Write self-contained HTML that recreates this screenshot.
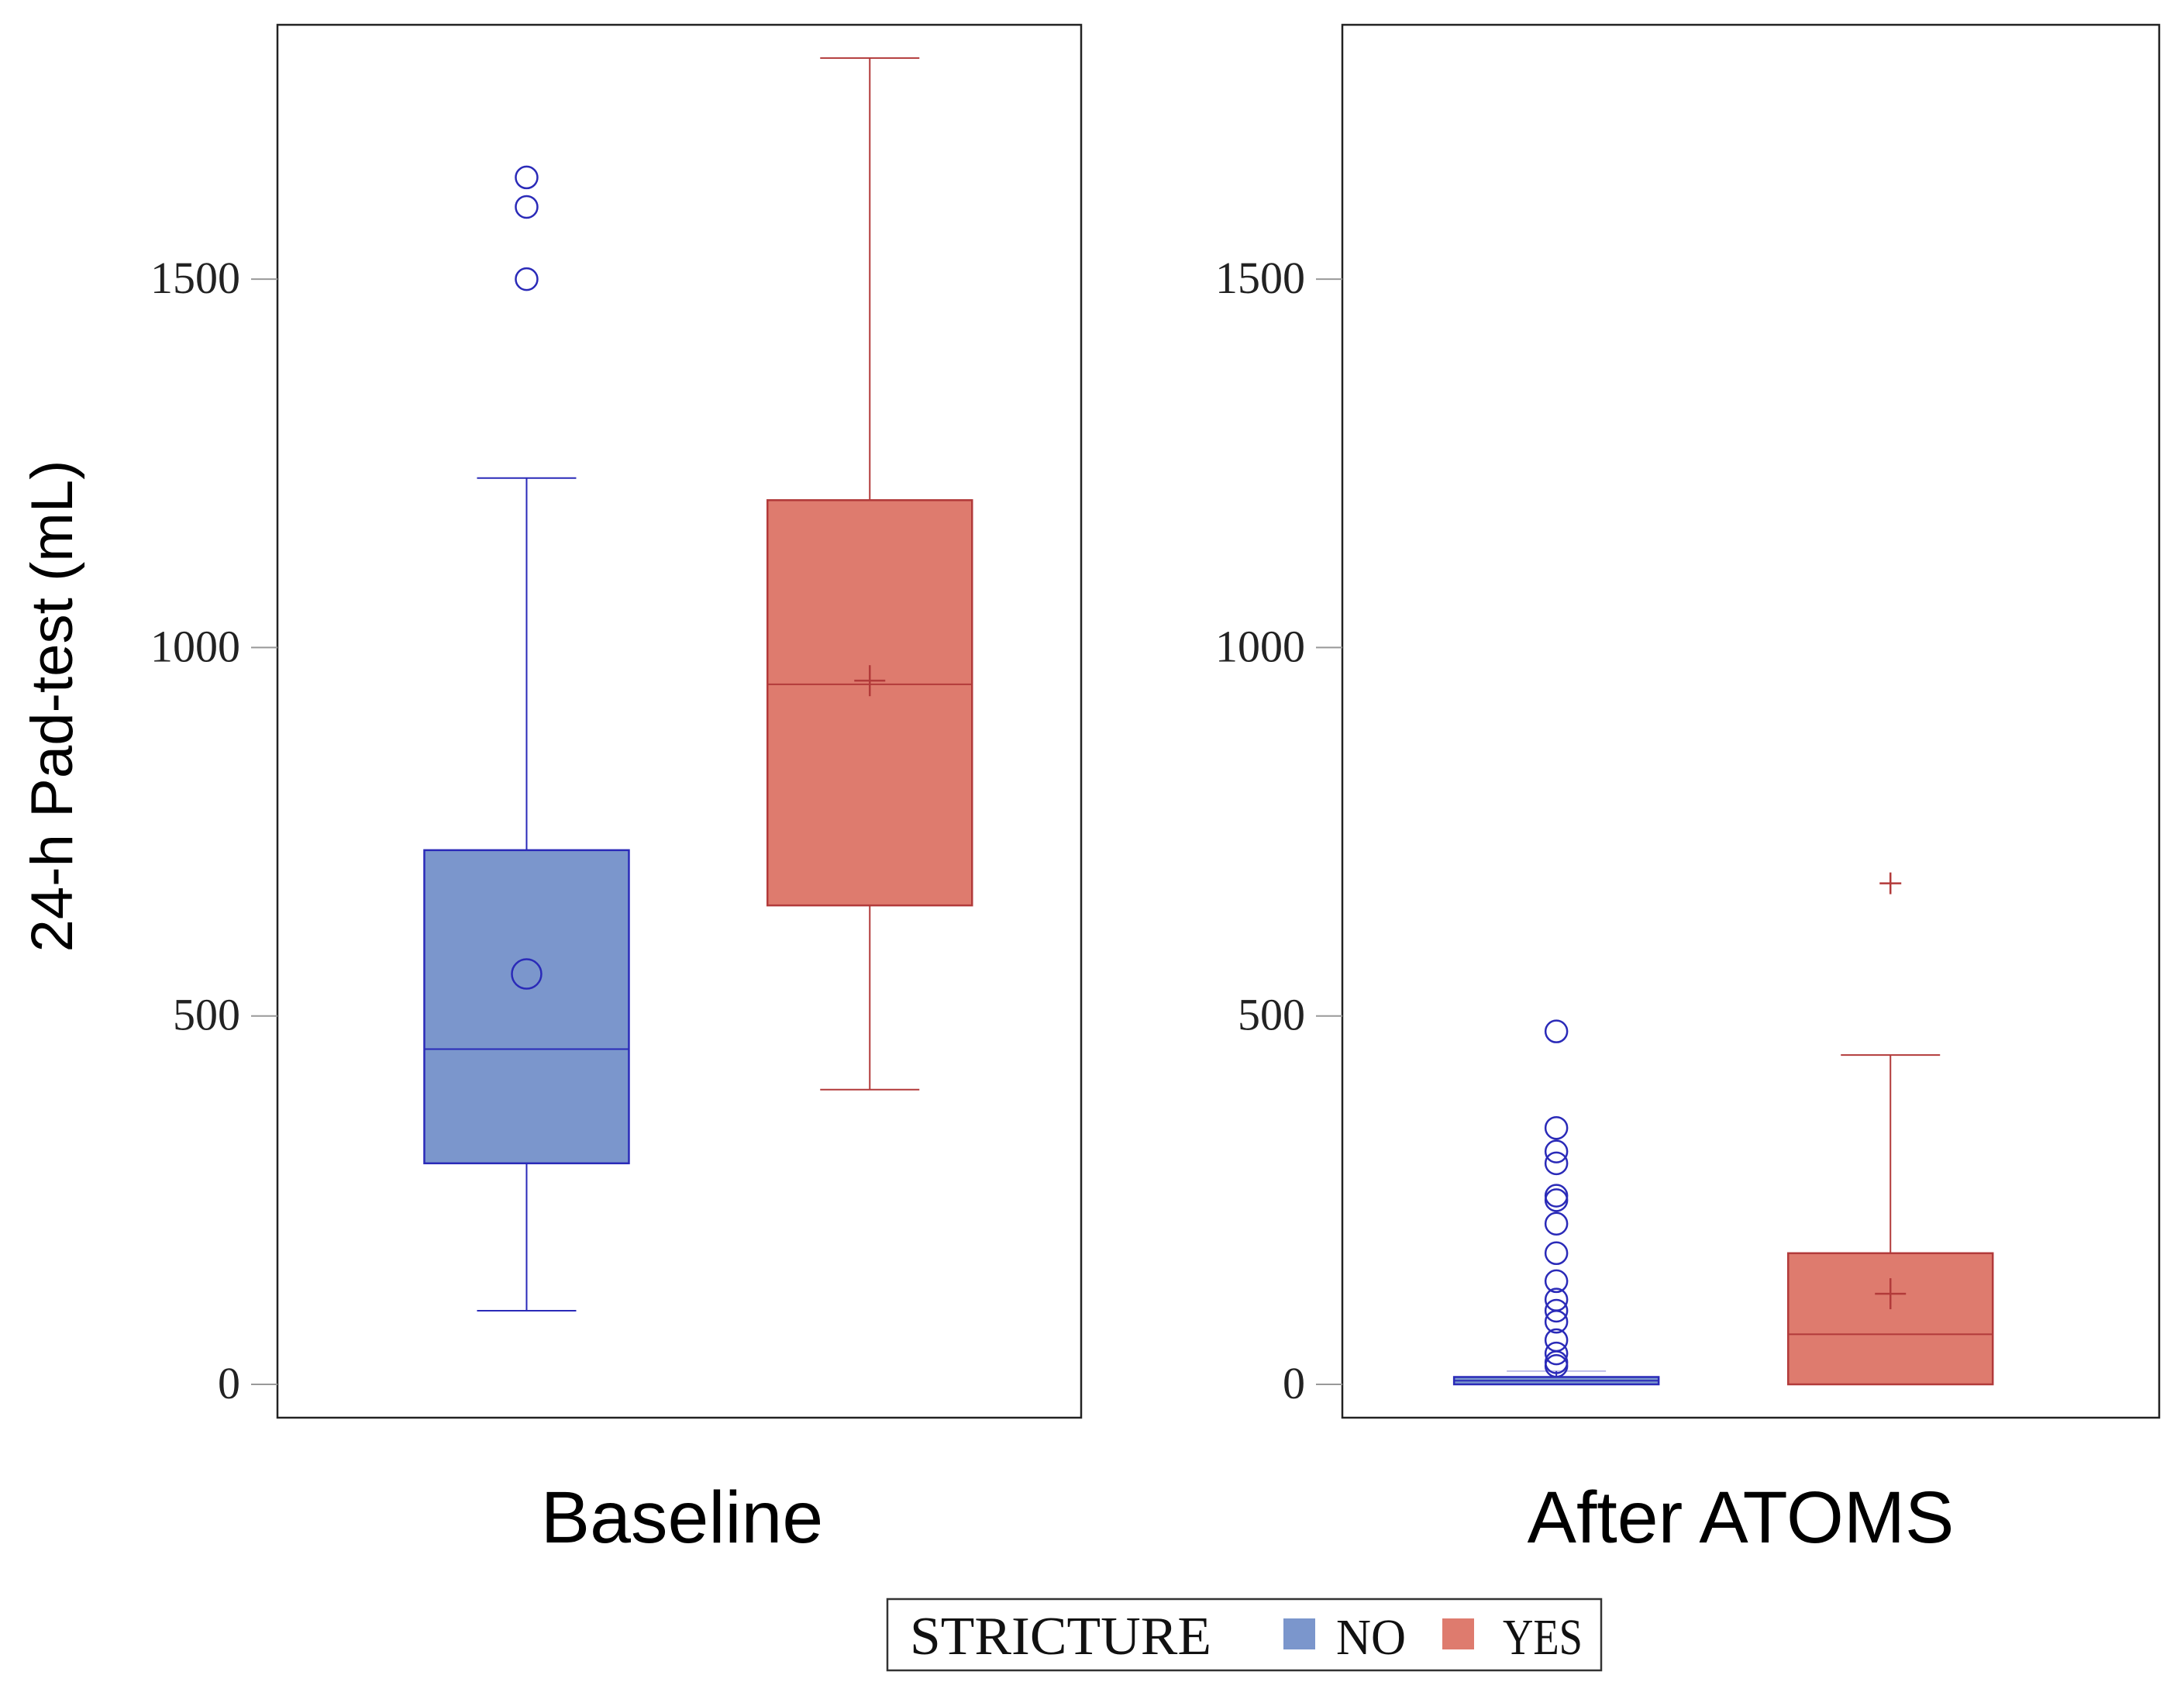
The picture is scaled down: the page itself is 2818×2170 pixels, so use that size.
<!DOCTYPE html>
<html><head><meta charset="utf-8"><style>
html,body{margin:0;padding:0;background:#fff;width:2818px;height:2170px;overflow:hidden}
svg{display:block}
</style></head><body>
<svg id="chart" width="2818" height="2170" xmlns="http://www.w3.org/2000/svg"></svg>
<script>
const panels = ["Baseline", "After ATOMS"];
const groups = ["NO", "YES"];
const yTicks = [0, 500, 1000, 1500];
// [low, q1, median, q3, high, mean] per panel per group
const baselineNo = [100, 300, 455, 725, 1230, 557];
const baselineYes = [400, 650, 950, 1200, 1800, 955];
const afterNo = [0, 0, 5, 10, 18, 6];
const afterYes = [0, 0, 68, 178, 447, 123];
const baselineNoOutliers = [1500, 1598, 1638];
const baselineYesOutliers = [];
const afterNoOutliers = [479, 348, 316, 300, 256, 250, 218, 178, 140, 115, 100, 85, 60, 42, 30, 25];
const afterYesOutliers = [680];
const stats = [[baselineNo, baselineYes], [afterNo, afterYes]];
const outliers = [[baselineNoOutliers, baselineYesOutliers], [afterNoOutliers, afterYesOutliers]];

const NS = "http://www.w3.org/2000/svg";
const svg = document.getElementById("chart");
const frames = [{x0: 358, x1: 1395}, {x0: 1732, x1: 2786}];
const centerFrac = [[0.31, 0.737], [0.262, 0.671]];
const labelX = [880, 2246];
const plotTop = 32, plotBottom = 1829;
function yScale(v) { return 1786 - v * (475.3 / 500); }
function xCenter(p, g) { const f = frames[p]; return f.x0 + (f.x1 - f.x0) * centerFrac[p][g]; }
const fills = ["#7b96cc", "#de7b6e"], strokes = ["#2a2ab8", "#b23a3a"];
function mk(tag, attrs, parent) {
  const e = document.createElementNS(NS, tag);
  for (const k in attrs) e.setAttribute(k, attrs[k]);
  (parent || svg).appendChild(e);
  return e;
}
panels.forEach((name, p) => {
  const f = frames[p];
  const g = mk("g", {});
  
  
  const fr = mk("rect", {x: f.x0, y: plotTop, width: f.x1 - f.x0, height: plotBottom - plotTop, fill: "none", stroke: "#222", "stroke-width": 2.5}, g);
  
  
  yTicks.forEach(t => {
    const y = yScale(t);
    const tk = mk("line", {x1: f.x0 - 34, x2: f.x0, y1: y, y2: y, stroke: "#999", "stroke-width": 2}, g);
    
    
    const tl = mk("text", {x: f.x0 - 48, y: y + 18, "text-anchor": "end", "font-family": "Liberation Serif, serif", "font-size": 58, fill: "#222"}, g);
    tl.textContent = t;
    
    
  });
  groups.forEach((gn, gi) => {
    const s = stats[p][gi], cx = xCenter(p, gi), hw = 132, cap = 64;
    const bg = mk("g", {}, g);
    
    
    const st = strokes[gi];
    mk("line", {x1: cx, x2: cx, y1: yScale(s[0]), y2: yScale(s[1]), stroke: st, "stroke-width": 2}, bg);
    mk("line", {x1: cx, x2: cx, y1: yScale(s[3]), y2: yScale(s[4]), stroke: st, "stroke-width": 2}, bg);
    mk("line", {x1: cx - cap, x2: cx + cap, y1: yScale(s[0]), y2: yScale(s[0]), stroke: st, "stroke-width": 2, opacity: p === 1 && gi === 0 ? 0 : 1}, bg);
    mk("line", {x1: cx - cap, x2: cx + cap, y1: yScale(s[4]), y2: yScale(s[4]), stroke: st, "stroke-width": 2, opacity: p === 1 && gi === 0 ? 0.3 : 1}, bg);
    const bh = Math.max(yScale(s[1]) - yScale(s[3]), 8);
    mk("rect", {x: cx - hw, y: yScale(s[1]) - bh, width: 2 * hw, height: bh, fill: fills[gi], stroke: st, "stroke-width": 2.5}, bg);
    mk("line", {x1: cx - hw, x2: cx + hw, y1: yScale(s[2]), y2: yScale(s[2]), stroke: st, "stroke-width": 2}, bg);
    const my = yScale(s[5]);
    if (gi === 0) {
      if (p === 0) mk("circle", {cx: cx, cy: my, r: 19, fill: "none", stroke: st, "stroke-width": 2.5}, bg);
    } else {
      mk("line", {x1: cx - 20, x2: cx + 20, y1: my, y2: my, stroke: st, "stroke-width": 2.5}, bg);
      mk("line", {x1: cx, x2: cx, y1: my - 20, y2: my + 20, stroke: st, "stroke-width": 2.5}, bg);
    }
    outliers[p][gi].forEach(v => {
      const oy = yScale(v);
      if (gi === 0) {
        const c = mk("circle", {cx: cx, cy: oy, r: 14, fill: "none", stroke: st, "stroke-width": 2.5}, bg);
        
        
      } else {
        mk("line", {x1: cx - 14, x2: cx + 14, y1: oy, y2: oy, stroke: st, "stroke-width": 2.5}, bg);
        mk("line", {x1: cx, x2: cx, y1: oy - 14, y2: oy + 14, stroke: st, "stroke-width": 2.5}, bg);
      }
    });
  });
  const pl = mk("text", {x: labelX[p], y: 1990, "text-anchor": "middle", "font-family": "Liberation Sans, sans-serif", "font-size": 95, fill: "#000"}, g);
  pl.textContent = name;
  
  
});
const yt = mk("text", {x: 0, y: 0, transform: "translate(93,911) rotate(-90)", "text-anchor": "middle", "font-family": "Liberation Sans, sans-serif", "font-size": 76, fill: "#000", textLength: 635, lengthAdjust: "spacingAndGlyphs"});
yt.textContent = "24-h Pad-test (mL)";



const lg = mk("g", {});


mk("rect", {x: 1145, y: 2063, width: 921, height: 92, fill: "#fff", stroke: "#333", "stroke-width": 2.5}, lg);
const lt = mk("text", {x: 1174, y: 2134, "font-family": "Liberation Serif, serif", "font-size": 70, fill: "#111", textLength: 389, lengthAdjust: "spacingAndGlyphs"}, lg);
lt.textContent = "STRICTURE";


const legX = [1656, 1861];
const legTextX = [1724, 1939];
const legTextW = [90, 103];
groups.forEach((gn, gi) => {
  const e = mk("g", {}, lg);
  
  
  mk("rect", {x: legX[gi], y: 2088, width: 41, height: 40, fill: fills[gi]}, e);
  const t = mk("text", {x: legTextX[gi], y: 2134, "font-family": "Liberation Serif, serif", "font-size": 66, fill: "#111", textLength: legTextW[gi], lengthAdjust: "spacingAndGlyphs"}, e);
  t.textContent = gn;
});
</script>
</body></html>
